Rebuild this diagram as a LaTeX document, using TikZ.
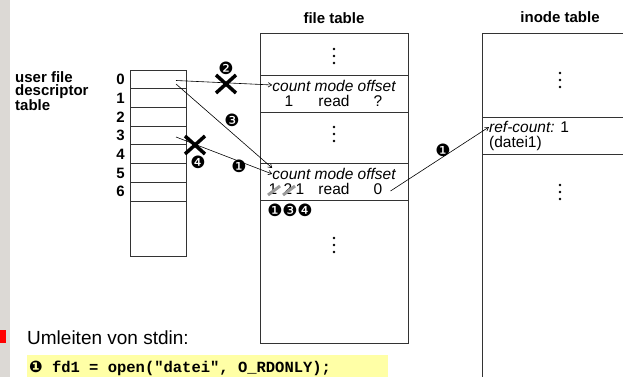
\documentclass[tikz,border=0pt]{standalone}
\usepackage{fontspec}
\setmainfont{Liberation Sans}
\setmonofont{Liberation Mono}
\newfontfamily\circfont{DejaVu Sans}
\usepackage{tikz}
\usetikzlibrary{arrows.meta}
\definecolor{strip}{HTML}{DCD9D5}
\definecolor{marker}{HTML}{FF0000}
\definecolor{codebg}{HTML}{FFFFA6}
\definecolor{strike}{HTML}{9A9A9A}
\definecolor{rule}{HTML}{333333}
\tikzset{
  tbl/.style={draw=rule, line width=0.8pt},
  ttl/.style={font=\fontsize{15}{15}\selectfont\bfseries, inner sep=0pt},
  idx/.style={font=\fontsize{15}{15}\selectfont\bfseries, anchor=east, inner sep=0pt},
  fld/.style={font=\fontsize{15.5}{15}\selectfont, inner sep=0pt},
  ptr/.style={-{Straight Barb[length=3.5pt,width=4.5pt]}, line width=0.6pt},
  cross/.style={line width=3.5pt},
  num/.style={font=\fontsize{17}{17}\selectfont\circfont, inner sep=0pt},
  gone/.style={strike, line width=3pt},
}
\newcommand{\vdts}[2]{%
  \foreach \d in {-7,0,7} {\fill ({#1},{#2+\d}) circle (1.3pt);}}
\newcommand{\xmark}[2]{%
  \draw[cross] ({#1-10},{#2-9}) -- ({#1+10},{#2+9});
  \draw[cross] ({#1-10},{#2+9}) -- ({#1+10},{#2-9});}

\begin{document}
\begin{tikzpicture}[x=1pt,y=-1pt]
  \useasboundingbox (0,0) rectangle (623,377);
  \fill[strip] (0,0) rectangle (10,377);
  \fill[marker] (0,330) rectangle (6,343);

  \node[ttl, anchor=north west, align=left,
        font=\fontsize{15}{13.5}\selectfont\bfseries] (fdlbl) at (15,71)
        {user file\\descriptor\\table};
  \node[ttl] (fttl) at (334,18) {file table};
  \node[ttl] (ittl) at (560,17) {inode table};

  \draw[tbl] (130,70) rectangle (186,256);
  \foreach \r in {1,...,7} {\draw[tbl] (130,{70+18.7*\r}) -- (186,{70+18.7*\r});}
  \foreach \r in {0,...,6} {\node[idx] (i\r) at (125,{79.5+18.7*\r}) {\r};}
  \coordinate (fd0a) at (176,80.5);
  \coordinate (fd0b) at (176,84);
  \coordinate (fd3) at (176,137);

  \draw[tbl] (260,33) rectangle (408,343);
  \draw[tbl] (260,75) rectangle (408,112);
  \draw[tbl] (260,163) rectangle (408,200);
  \vdts{334}{56} \vdts{334}{134} \vdts{334}{245}
  \node[fld] (hdr1) at (334,86) {\itshape count mode offset};
  \node[fld] (cnt1) at (289,101) {1};
  \node[fld] (rd1) at (334,101) {read};
  \node[fld] (off1) at (378,101) {?};
  \node[fld] (hdr2) at (334,174) {\itshape count mode offset};
  \node[fld] (cnt2a) at (273,189) {1};
  \node[fld] (cnt2b) at (288,189) {2};
  \node[fld] (cnt2c) at (300,189) {1};
  \node[fld] (rd2) at (334,189) {read};
  \node[fld] (off2) at (378,189) {0};
  \draw[gone] (268,195) -- (280,186);
  \draw[gone] (283,195) -- (295,186);
  \node[num] (h1) at (275,210) {❶};
  \node[num] (h3) at (290,210) {❸};
  \node[num] (h4) at (305,210) {❹};

  \draw[tbl] (482,377) -- (482,33) -- (623,33);
  \draw[tbl] (482,117) -- (623,117);
  \draw[tbl] (482,154) -- (623,154);
  \vdts{560}{80} \vdts{560}{192}
  \node[fld, anchor=west] (ref) at (489,127) {\textit{ref-count:} 1};
  \node[fld, anchor=west] (dat) at (489,143) {(datei1)};

  \draw[ptr] (fd0a) -- ([yshift=1pt]hdr1.west);
  \draw[ptr] (fd0b) -- ([yshift=6pt]hdr2.west);
  \draw[ptr] (fd3) -- (hdr2.west);
  \draw[ptr] ([xshift=8pt,yshift=-2pt]off2.east) -- (ref.west);
  \xmark{226}{84} \xmark{195}{145}
  \node[num] (c2) at (226,68) {❷};
  \node[num] (c3) at (232,120) {❸};
  \node[num] (c4) at (198,162) {❹};
  \node[num] (c1) at (239,166) {❶};
  \node[num] (c1b) at (443,150) {❶};

  \node[font=\fontsize{19}{19}\selectfont, anchor=base west, inner sep=0pt]
        (redir) at (27,344) {Umleiten von stdin:};
  \fill[codebg] (27,355) rectangle (388,377);
  \node[font=\fontsize{15.5}{15}\selectfont\ttfamily\bfseries, anchor=base west,
        inner sep=0pt] (code) at (29,372)
        {{\circfont\fontsize{16}{16}\selectfont ❶} fd1 = open("datei", O\_RDONLY);};
\end{tikzpicture}
\end{document}
